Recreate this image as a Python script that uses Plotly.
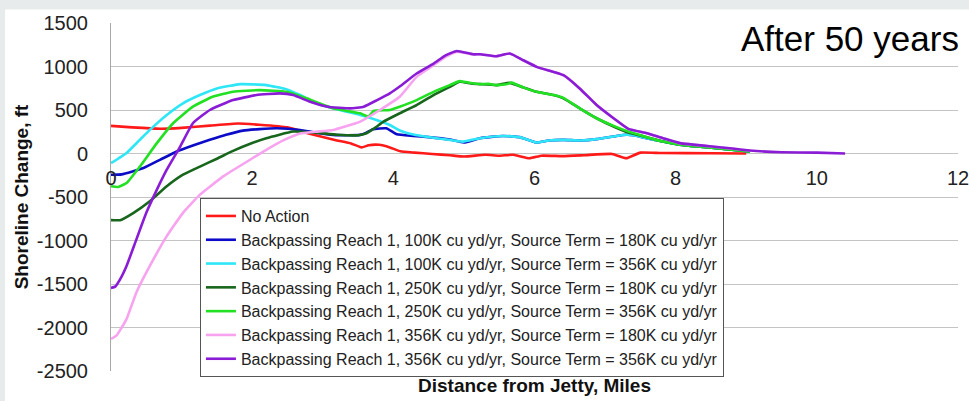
import plotly.graph_objects as go

# ---------------- data ----------------
series_names = [
    "No Action",
    "Backpassing Reach 1, 100K cu yd/yr, Source Term = 180K cu yd/yr",
    "Backpassing Reach 1, 100K cu yd/yr, Source Term = 356K cu yd/yr",
    "Backpassing Reach 1, 250K cu yd/yr, Source Term = 180K cu yd/yr",
    "Backpassing Reach 1, 250K cu yd/yr, Source Term = 356K cu yd/yr",
    "Backpassing Reach 1, 356K cu yd/yr, Source Term = 180K cu yd/yr",
    "Backpassing Reach 1, 356K cu yd/yr, Source Term = 356K cu yd/yr",
]
series_colors = ["#ff1a1a", "#0c0cc8", "#2ee6f6", "#17661c", "#22e022", "#f7a3ef", "#8a1cd6"]

x_no_action = [0, 0.3, 0.7, 1.0, 1.4, 1.8, 2.1, 2.5, 2.8, 3.0, 3.2, 3.4, 3.55, 3.65, 3.8, 3.95,
               4.1, 4.3, 4.55, 4.8, 5.0, 5.3, 5.5, 5.7, 5.93, 6.1, 6.4, 6.7, 7.1, 7.3, 7.5, 7.8,
               8.5, 9.0]
y_no_action = [317, 300, 285, 295, 320, 345, 330, 300, 230, 190, 150, 115, 70, 95, 100, 70,
               25, 10, -5, -20, -35, -15, -25, -15, -55, -25, -30, -20, -5, -55, 10, 5,
               3, 0]

x_100_180 = [0, 0.15, 0.46, 0.7, 0.93, 1.17, 1.4, 1.63, 1.87, 2.1, 2.35, 2.68, 2.9, 3.15, 3.35,
             3.53, 3.62, 3.71, 3.9, 4.05, 4.28, 4.5, 4.8, 5.0, 5.23, 5.55, 5.79, 6.03, 6.2,
             6.41, 6.65, 6.88, 7.16, 7.3, 7.4, 7.59, 7.82, 8.06, 8.3, 8.58, 9.05]
y_100_180 = [-244, -240, -167, -70, 23, 95, 157, 215, 263, 280, 290, 271, 240, 214, 210,
             214, 240, 279, 290, 220, 202, 188, 160, 126, 176, 202, 188, 126, 150,
             157, 150, 165, 202, 215, 210, 176, 137, 100, 80, 62, 23]

x_100_356 = [0, 0.1, 0.22, 0.4, 0.55, 0.79, 1.02, 1.26, 1.5, 1.83, 2.0, 2.2, 2.49, 2.68, 2.91,
             3.24, 3.53, 3.76, 3.95, 4.09, 4.3, 4.61, 4.85, 4.99, 5.23, 5.55, 5.79, 6.03, 6.2,
             6.41, 6.65, 6.88, 7.16, 7.3, 7.4, 7.59, 7.82, 8.06, 8.3, 8.58, 9.05]
y_100_356 = [-110, -60, 5, 150, 271, 443, 577, 672, 748, 797, 795, 786, 737, 672, 577,
             500, 443, 386, 328, 265, 215, 176, 150, 137, 176, 202, 188, 126, 150,
             157, 150, 165, 202, 215, 210, 176, 137, 100, 80, 62, 23]

x_250_180 = [0, 0.13, 0.32, 0.55, 0.79, 1.02, 1.26, 1.5, 1.73, 2.0, 2.2, 2.58, 2.9, 3.2, 3.5,
             3.62, 3.75, 3.86, 4.09, 4.33, 4.57, 4.8, 4.94, 5.1, 5.23, 5.46, 5.65, 5.84, 6.03,
             6.27, 6.41, 6.64, 6.88, 7.12, 7.33, 7.59, 7.82, 8.06, 8.3, 8.58, 9.05]
y_250_180 = [-766, -766, -682, -549, -377, -244, -150, -60, 30, 120, 176, 252, 240, 215, 210,
             233, 300, 366, 462, 557, 672, 767, 824, 805, 797, 786, 812, 760, 709,
             672, 634, 519, 405, 310, 240, 188, 137, 100, 80, 62, 23]

x_250_356 = [0, 0.1, 0.22, 0.41, 0.65, 0.88, 1.16, 1.44, 1.73, 2.11, 2.49, 2.77, 3.15, 3.53,
             3.65, 3.72, 3.95, 4.09, 4.33, 4.57, 4.8, 4.94, 5.0, 5.1, 5.23, 5.35, 5.46, 5.6,
             5.68, 5.75, 5.84, 6.03, 6.27, 6.41, 6.64, 6.88, 7.12, 7.33, 7.59, 7.82, 8.06,
             8.3, 8.58, 9.05]
y_250_356 = [-377, -385, -339, -149, 119, 348, 538, 652, 709, 729, 709, 634, 519, 462,
             425, 490, 500, 538, 614, 709, 786, 832, 824, 810, 797, 800, 786, 795,
             815, 790, 760, 709, 672, 640, 519, 405, 317, 252, 188, 137, 100,
             80, 62, 23]

x_356_180 = [0, 0.08, 0.22, 0.36, 0.55, 0.79, 1.02, 1.26, 1.59, 1.97, 2.2, 2.44, 2.68, 2.9,
             3.15, 3.53, 3.81, 4.09, 4.33, 4.57, 4.74, 4.9, 5.13, 5.23, 5.46, 5.65, 5.84,
             6.03, 6.27, 6.41, 6.64, 6.88, 7.12, 7.33, 7.59, 7.82, 8.06, 8.58, 9.05]
y_356_180 = [-2131, -2090, -1903, -1597, -1293, -950, -682, -473, -263, -72, 42, 150, 230, 250,
             271, 366, 500, 652, 881, 1015, 1110, 1170, 1140, 1141, 1118, 1149, 1072,
             996, 938, 900, 748, 557, 405, 283, 233, 176, 119, 75, 34]

x_356_356 = [0, 0.06, 0.13, 0.22, 0.36, 0.5, 0.65, 0.79, 0.98, 1.16, 1.4, 1.73, 2.06, 2.39,
             2.58, 2.82, 3.07, 3.39, 3.58, 3.77, 3.95, 4.09, 4.33, 4.57, 4.74, 4.9, 5.13,
             5.23, 5.46, 5.65, 5.84, 6.03, 6.27, 6.41, 6.64, 6.88, 7.12, 7.33, 7.59, 7.82,
             8.06, 8.58, 9.05, 9.5, 10.0, 10.4]
y_356_356 = [-1545, -1530, -1445, -1293, -987, -682, -415, -186, 80, 348, 500, 614, 672, 691,
             672, 595, 538, 519, 538, 614, 691, 770, 920, 1034, 1129, 1178, 1140,
             1141, 1118, 1149, 1072, 996, 938, 900, 748, 557, 405, 283, 233, 176,
             119, 75, 34, 15, 10, 0]

series_x = [x_no_action, x_100_180, x_100_356, x_250_180, x_250_356, x_356_180, x_356_356]
series_y = [y_no_action, y_100_180, y_100_356, y_250_180, y_250_356, y_356_180, y_356_356]

x_ticks = [0, 2, 4, 6, 8, 10, 12]
x_tick_labels = ["0", "2", "4", "6", "8", "10", "12"]
y_ticks = [-2500, -2000, -1500, -1000, -500, 0, 500, 1000, 1500]
y_tick_labels = ["-2500", "-2000", "-1500", "-1000", "-500", "0", "500", "1000", "1500"]
x_range = [0, 12]
y_range = [-2500, 1500]

# ---------------- figure ----------------
FONT = "Liberation Sans, Arial, sans-serif"
fig = go.Figure()
for name, color, xs, ys in zip(series_names, series_colors, series_x, series_y):
    fig.add_trace(go.Scatter(x=xs, y=ys, name=name, mode="lines",
                             line=dict(color=color, width=2.6, shape="spline", smoothing=0.4)))

grid = "#c4c4c4"
fig.update_layout(
    width=969, height=401,
    margin=dict(l=111, r=11, t=23, b=30, autoexpand=False),
    paper_bgcolor="#e8ebeb",
    plot_bgcolor="white",
    font=dict(family=FONT, color="#222222"),
    showlegend=True,
    legend=dict(x=0.105, y=0.497, xanchor="left", yanchor="top",
                bgcolor="white", bordercolor="#555555", borderwidth=1,
                font=dict(size=16, family=FONT, color="#222222"),
                itemwidth=30, tracegroupgap=0),
    xaxis=dict(range=x_range, tickvals=x_ticks, ticktext=x_tick_labels,
               showgrid=False, zeroline=False, automargin=False,
               showline=False, anchor="free",
               position=(0 - y_range[0]) / (y_range[1] - y_range[0]),
               ticks="", ticklabelstandoff=10, ticklabeloverflow="allow",
               tickfont=dict(size=20, family=FONT, color="#222222")),
    yaxis=dict(range=y_range, tickvals=y_ticks, ticktext=y_tick_labels,
               showgrid=True, gridcolor=grid, gridwidth=1, automargin=False,
               zeroline=False, showline=True, linecolor="#a8a8a8", linewidth=1,
               ticks="", ticklabelstandoff=18,
               tickfont=dict(size=20, family=FONT, color="#222222"),
               title=dict(text="<b>Shoreline Change, ft</b>", standoff=3,
                          font=dict(size=19, family=FONT, color="#111111"))),
    shapes=[dict(type="rect", xref="paper", yref="paper", x0=-0.125, x1=1.02,
                 y0=-0.1, y1=1.039, fillcolor="white", line=dict(width=0), layer="below")],
    annotations=[
        dict(text="<b>Distance from Jetty, Miles</b>", xref="paper", yref="paper",
             x=0.5, y=-0.043, xanchor="center", yanchor="middle", showarrow=False,
             font=dict(size=19, family=FONT, color="#111111")),
        dict(text="After 50 years", xref="paper", yref="paper",
             x=1.003, y=0.956, xanchor="right", yanchor="middle", showarrow=False,
             font=dict(size=35, family=FONT, color="#000000")),
    ],
)

fig.write_html("out.html")
